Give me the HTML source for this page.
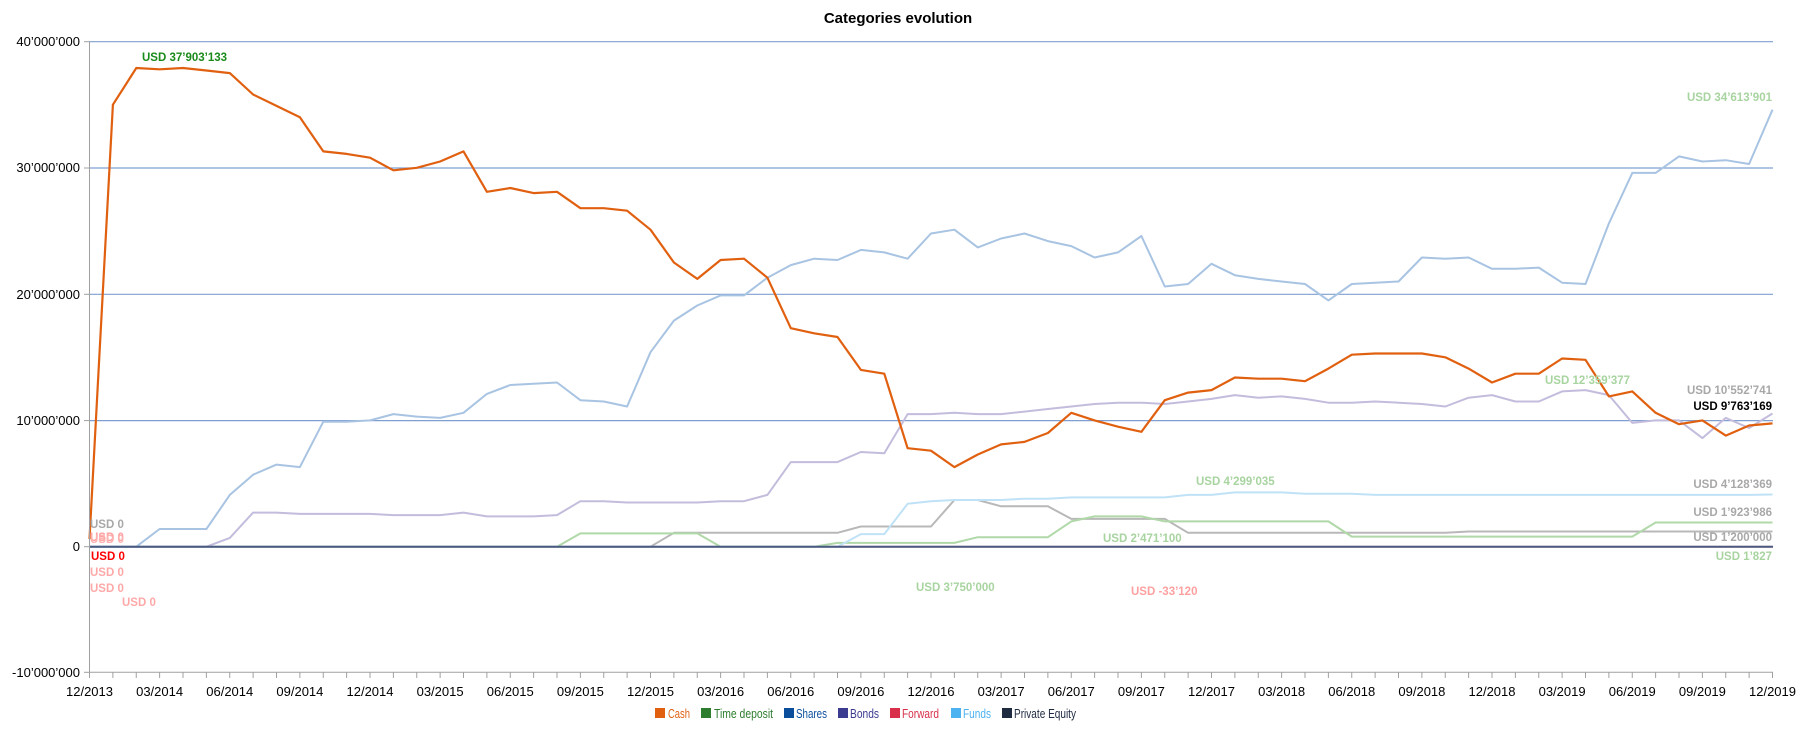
<!DOCTYPE html>
<html><head><meta charset="utf-8"><style>
html,body{margin:0;padding:0;background:#fff;}
svg{display:block;font-family:"Liberation Sans",sans-serif;}
</style></head><body>
<svg id="c" width="1796" height="731" viewBox="0 0 1796 731" xmlns="http://www.w3.org/2000/svg">
<text x="898" y="23" text-anchor="middle" font-size="15" font-weight="bold" fill="#000">Categories evolution</text>
<g stroke="#7f9fd0" stroke-width="1.2">
<line x1="89.5" x2="1773" y1="41.7" y2="41.7"/>
<line x1="89.5" x2="1773" y1="168" y2="168"/>
<line x1="89.5" x2="1773" y1="294.3" y2="294.3"/>
<line x1="89.5" x2="1773" y1="420.6" y2="420.6"/>
</g>
<g id="series" fill="none" stroke-linejoin="round"></g>
<g stroke="#a0a0a0" stroke-width="1">
<line x1="89.5" x2="89.5" y1="41.7" y2="672.3"/>
<line x1="89.5" x2="1773" y1="672.3" y2="672.3"/>
<line x1="84" x2="89.5" y1="41.7" y2="41.7"/><line x1="84" x2="89.5" y1="168" y2="168"/>
<line x1="84" x2="89.5" y1="294.3" y2="294.3"/><line x1="84" x2="89.5" y1="420.6" y2="420.6"/>
<line x1="84" x2="89.5" y1="546.7" y2="546.7"/><line x1="84" x2="89.5" y1="672.3" y2="672.3"/>
</g>
<g id="ticks" stroke="#a0a0a0"></g>
<g font-size="13" fill="#000" text-anchor="end">
<text x="80" y="46">40’000’000</text>
<text x="80" y="172">30’000’000</text>
<text x="80" y="299">20’000’000</text>
<text x="80" y="425">10’000’000</text>
<text x="80" y="551">0</text>
<text x="80" y="677">-10’000’000</text>
</g>
<g font-size="13" fill="#000" text-anchor="middle">
<text x="89.5" y="696">12/2013</text><text x="159.6" y="696">03/2014</text><text x="229.75" y="696">06/2014</text><text x="299.9" y="696">09/2014</text>
<text x="370" y="696">12/2014</text><text x="440.1" y="696">03/2015</text><text x="510.25" y="696">06/2015</text><text x="580.4" y="696">09/2015</text>
<text x="650.5" y="696">12/2015</text><text x="720.6" y="696">03/2016</text><text x="790.75" y="696">06/2016</text><text x="860.9" y="696">09/2016</text>
<text x="931" y="696">12/2016</text><text x="1001.1" y="696">03/2017</text><text x="1071.25" y="696">06/2017</text><text x="1141.4" y="696">09/2017</text>
<text x="1211.5" y="696">12/2017</text><text x="1281.6" y="696">03/2018</text><text x="1351.75" y="696">06/2018</text><text x="1421.9" y="696">09/2018</text>
<text x="1492" y="696">12/2018</text><text x="1562.1" y="696">03/2019</text><text x="1632.25" y="696">06/2019</text><text x="1702.4" y="696">09/2019</text>
<text x="1772.5" y="696">12/2019</text>
</g>
<g font-size="11.5" font-weight="bold">
<text x="142" y="61" fill="#1a8a1a">USD 37’903’133</text>
<text x="1772" y="101" text-anchor="end" fill="#a8d4a0">USD 34’613’901</text>
<text x="1545" y="384" fill="#a8d4a0">USD 12’359’377</text>
<text x="1772" y="394" text-anchor="end" fill="#a8a8a8">USD 10’552’741</text>
<text x="1772" y="410" text-anchor="end" fill="#000">USD 9’763’169</text>
<text x="1196" y="485" fill="#a8d4a0">USD 4’299’035</text>
<text x="1772" y="488" text-anchor="end" fill="#a8a8a8">USD 4’128’369</text>
<text x="1103" y="542" fill="#a8d4a0">USD 2’471’100</text>
<text x="1772" y="516" text-anchor="end" fill="#a8a8a8">USD 1’923’986</text>
<text x="1772" y="541" text-anchor="end" fill="#a8a8a8">USD 1’200’000</text>
<text x="1772" y="560" text-anchor="end" fill="#a8d4a0">USD 1’827</text>
<text x="916" y="591" fill="#a8d4a0">USD 3’750’000</text>
<text x="1131" y="595" fill="#ffa0a0">USD -33’120</text>
<text x="90" y="528" fill="#a8a8a8">USD 0</text>
<text x="90" y="541" fill="#ffa0a0">USD 0</text>
<text x="90" y="543" fill="#ffb0b0">USD 0</text>
<text x="91" y="560" fill="#ff0000">USD 0</text>
<text x="90" y="576" fill="#ffa8a8">USD 0</text>
<text x="90" y="592" fill="#ffa8a8">USD 0</text>
<text x="122" y="606" fill="#ffa8a8">USD 0</text>
</g>
<g font-size="13">
<rect x="655" y="708" width="10" height="10" fill="#e06010"/><text x="668" y="718" fill="#e06010" textLength="22" lengthAdjust="spacingAndGlyphs">Cash</text>
<rect x="701" y="708" width="10" height="10" fill="#2e7d2e"/><text x="714" y="718" fill="#2e7d2e" textLength="59" lengthAdjust="spacingAndGlyphs">Time deposit</text>
<rect x="784" y="708" width="10" height="10" fill="#0b4f9c"/><text x="796" y="718" fill="#0b4f9c" textLength="31" lengthAdjust="spacingAndGlyphs">Shares</text>
<rect x="838" y="708" width="10" height="10" fill="#3b3b8f"/><text x="850" y="718" fill="#3b3b8f" textLength="29" lengthAdjust="spacingAndGlyphs">Bonds</text>
<rect x="890" y="708" width="10" height="10" fill="#d8304a"/><text x="902" y="718" fill="#d8304a" textLength="37" lengthAdjust="spacingAndGlyphs">Forward</text>
<rect x="951" y="708" width="10" height="10" fill="#4db3f0"/><text x="963" y="718" fill="#4db3f0" textLength="28" lengthAdjust="spacingAndGlyphs">Funds</text>
<rect x="1002" y="708" width="10" height="10" fill="#1e2a40"/><text x="1014" y="718" fill="#1e2a40" textLength="62" lengthAdjust="spacingAndGlyphs">Private Equity</text>
</g>
</svg>
<script>
(function(){
var NS="http://www.w3.org/2000/svg";
function X(i){return 89.5+23.375*i;}
function Y(v){return 546.7-v*12.63;}
var ticks=document.getElementById('ticks');
for(var i=0;i<=72;i++){var l=document.createElementNS(NS,'line');l.setAttribute('x1',X(i));l.setAttribute('x2',X(i));l.setAttribute('y1',672.3);l.setAttribute('y2',678);ticks.appendChild(l);}
function fill(arr){var o=[];for(var k=0;k<arr.length;k++){var s=arr[k];for(var j=s[0];j<=s[1];j++)o[j]=s[2];}return o;}
var cash=[0.6,35,37.9,37.8,37.9,37.7,37.5,35.8,34.9,34.0,31.3,31.1,30.8,29.8,30.0,30.5,31.3,28.1,28.4,28.0,28.1,26.8,26.8,26.6,25.1,22.5,21.2,22.7,22.8,21.3,17.3,16.9,16.6,14.0,13.7,7.8,7.6,6.3,7.3,8.1,8.3,9.0,10.6,10.0,9.5,9.1,11.6,12.2,12.4,13.4,13.3,13.3,13.1,14.1,15.2,15.3,15.3,15.3,15.0,14.1,13.0,13.7,13.7,14.9,14.8,11.9,12.3,10.6,9.7,10.0,8.8,9.6,9.76];
var blue=[0,0,0,1.4,1.4,1.4,4.1,5.7,6.5,6.3,9.9,9.9,10.0,10.5,10.3,10.2,10.6,12.1,12.8,12.9,13.0,11.6,11.5,11.1,15.4,17.9,19.1,19.9,19.9,21.3,22.3,22.8,22.7,23.5,23.3,22.8,24.8,25.1,23.7,24.4,24.8,24.2,23.8,22.9,23.3,24.6,20.6,20.8,22.4,21.5,21.2,21.0,20.8,19.5,20.8,20.9,21.0,22.9,22.8,22.9,22.0,22.0,22.1,20.9,20.8,25.6,29.6,29.6,30.9,30.5,30.6,30.3,34.6];
var lav=[0,0,0,0,0,0,0.7,2.7,2.7,2.6,2.6,2.6,2.6,2.5,2.5,2.5,2.7,2.4,2.4,2.4,2.5,3.6,3.6,3.5,3.5,3.5,3.5,3.6,3.6,4.1,6.7,6.7,6.7,7.5,7.4,10.5,10.5,10.6,10.5,10.5,10.7,10.9,11.1,11.3,11.4,11.4,11.3,11.5,11.7,12.0,11.8,11.9,11.7,11.4,11.4,11.5,11.4,11.3,11.1,11.8,12.0,11.5,11.5,12.3,12.4,12.0,9.8,10.0,10.0,8.6,10.2,9.4,10.55];
var sky=fill([[0,32,0],[33,34,1.0],[35,35,3.4],[36,36,3.6],[37,39,3.7],[40,41,3.8],[42,46,3.9],[47,48,4.1],[49,51,4.3],[52,54,4.2],[55,72,4.1]]);sky[72]=4.13;
var green=fill([[0,20,0],[21,26,1.05],[27,31,0],[32,37,0.3],[38,41,0.75],[42,42,2.0],[43,45,2.4],[46,53,2.0],[54,66,0.8],[67,72,1.92]]);
var gray=fill([[0,24,0],[25,32,1.1],[33,36,1.6],[37,38,3.7],[39,41,3.2],[42,46,2.2],[47,58,1.1],[59,72,1.2]]);
var g=document.getElementById('series');
function line(d,c,w){var p=document.createElementNS(NS,'polyline');var s=[];for(var i=0;i<d.length;i++)s.push(X(i).toFixed(1)+','+Y(d[i]).toFixed(1));p.setAttribute('points',s.join(' '));p.setAttribute('stroke',c);p.setAttribute('stroke-width',w);g.appendChild(p);}
line(fill([[0,72,0]]),'#f4b0b0',2);
line(gray,'#b8b8b8',2);
line(green,'#b0d8a8',2);
line(sky,'#c0e2f6',2);
line(lav,'#c4bcdc',2);
line(blue,'#a8c4e2',2);
var z=document.createElementNS(NS,'line');z.setAttribute('x1',89.5);z.setAttribute('x2',1773);z.setAttribute('y1',546.7);z.setAttribute('y2',546.7);z.setAttribute('stroke','#4a5a80');z.setAttribute('stroke-width',2);g.appendChild(z);
line(cash,'#e06010',2.2);
})();
</script>
</body></html>
